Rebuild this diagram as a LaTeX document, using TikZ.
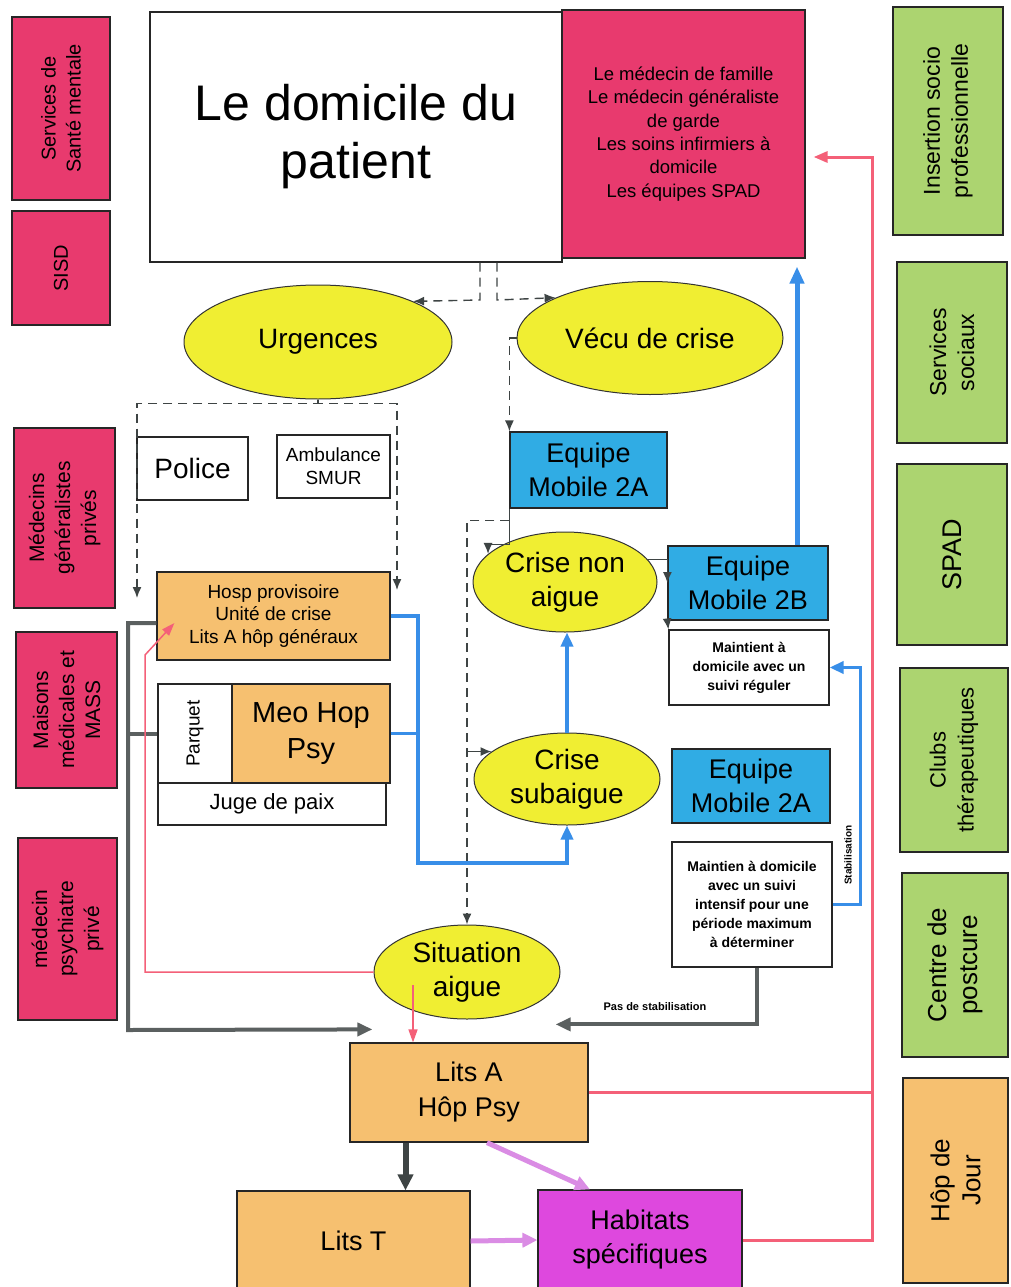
\documentclass[tikz,border=0pt]{standalone}
\usepackage{fontspec}
\setmainfont{Liberation Sans}
\usetikzlibrary{shapes.geometric, arrows.meta}

\definecolor{pinkbox}{RGB}{232,58,110}
\definecolor{greenbox}{RGB}{172,212,112}
\definecolor{orangebox}{RGB}{246,192,112}
\definecolor{yellowoval}{RGB}{240,238,50}
\definecolor{bluebox}{RGB}{48,172,228}
\definecolor{magentabox}{RGB}{222,72,222}
\definecolor{bluewire}{RGB}{56,142,232}
\definecolor{pinkwire}{RGB}{244,96,120}
\definecolor{violetwire}{RGB}{218,140,228}
\definecolor{darkwire}{RGB}{62,68,68}

\newcommand{\fsz}[2]{\fontsize{#1}{#2}\selectfont}

\begin{document}
\begin{tikzpicture}[x = 1pt, y = -1pt, > = {Latex[length = 11pt, width = 9pt]},
	box/.style = {draw = black!85, line width = 1.2, inner sep = 0, align = center, font = \fsz{27}{34}},
	sidebox/.style = {box, rotate = 90},
	oval/.style = {ellipse, draw = black!80, line width = 1, fill = yellowoval, inner sep = 0, align = center, font = \fsz{28}{34}},
	dashlink/.style = {draw = darkwire, line width = 1.4, dash pattern = on 9pt off 6pt},
	darkthin/.style = {draw = darkwire, line width = 1.4},
	bluelink/.style = {draw = bluewire, line width = 3.5, > = {Triangle[length = 14pt, width = 12pt]}},
	bluethick/.style = {draw = bluewire, line width = 5, > = {Triangle[length = 17pt, width = 14pt]}},
	graylink/.style = {draw = darkwire!85, line width = 4, > = {Triangle[length = 15pt, width = 13pt]}},
	darklink/.style = {draw = darkwire, line width = 6, > = {Triangle[length = 16pt, width = 15pt]}},
	violetlink/.style = {draw = violetwire, line width = 5, > = {Triangle[length = 15pt, width = 14pt]}},
	pinklink/.style = {draw = pinkwire, line width = 3, > = {Triangle[length = 14pt, width = 11pt]}},
	pinkthin/.style = {draw = pinkwire, line width = 1.5, > = {Triangle[length = 13pt, width = 9pt]}}]

	% Page

	\fill [white] (0, 0) rectangle (1010, 1287);
	\useasboundingbox (0, 0) rectangle (1010, 1287);

	% Left column

	\node [sidebox, fill = pinkbox, minimum width = 183, minimum height = 98, font = \fsz{20}{25}] (smh) at (61, 108.5) {Services de\\Santé mentale};
	\node [sidebox, fill = pinkbox, minimum width = 114, minimum height = 98, font = \fsz{20}{25}] (sisd) at (61, 268) {SISD};
	\node [sidebox, fill = pinkbox, minimum width = 180, minimum height = 101, font = \fsz{21}{26}] (medGen) at (64.5, 518) {Médecins\\généralistes\\privés};
	\node [sidebox, fill = pinkbox, minimum width = 156, minimum height = 101, font = \fsz{21}{26}] (maisons) at (66.5, 710) {Maisons\\médicales et\\MASS};
	\node [sidebox, fill = pinkbox, minimum width = 182, minimum height = 99, font = \fsz{21}{26}] (medPsy) at (67.5, 929) {médecin\\psychiatre\\privé};

	% Right column

	\node [sidebox, fill = greenbox, minimum width = 228, minimum height = 110, font = \fsz{23}{28}] (insertion) at (948, 121) {Insertion socio\\professionnelle};
	\node [sidebox, fill = greenbox, minimum width = 181, minimum height = 110, font = \fsz{23}{28}] (sociaux) at (952, 352.5) {Services\\sociaux};
	\node [sidebox, fill = greenbox, minimum width = 181, minimum height = 110, font = \fsz{27}{32}] (spad) at (952, 554.5) {SPAD};
	\node [sidebox, fill = greenbox, minimum width = 184, minimum height = 108, font = \fsz{22}{28}] (clubs) at (954, 760) {Clubs\\thérapeutiques};
	\node [sidebox, fill = greenbox, minimum width = 184, minimum height = 106, font = \fsz{26}{31}] (postcure) at (955, 965) {Centre de\\postcure};
	\node [sidebox, fill = orangebox, minimum width = 205, minimum height = 105, font = \fsz{26}{31}] (hopJour) at (955.5, 1180.5) {Hôp de\\Jour};

	% Domicile

	\node [box, minimum width = 412, minimum height = 250, font = \fsz{50}{58}] (dom) at (356, 137) {Le domicile du\\patient};
	\node [box, fill = pinkbox, minimum width = 243, minimum height = 248, font = \fsz{18.5}{23.4}] (domPink) at (683.5, 134) {Le médecin de famille\\Le médecin généraliste\\de garde\\Les soins infirmiers à\\domicile\\Les équipes SPAD};

	% Crisis ovals

	\node [oval, minimum width = 268, minimum height = 114] (urg) at (318, 342) {Urgences};
	\node [oval, minimum width = 266, minimum height = 113] (vec) at (650, 338) {Vécu de crise};
	\node [oval, minimum width = 184, minimum height = 100] (cna) at (565, 582) {Crise non\\aigue};
	\node [oval, minimum width = 186, minimum height = 92] (csa) at (567, 779) {Crise\\subaigue};
	\node [oval, minimum width = 186, minimum height = 94] (sit) at (467, 972) {Situation\\aigue};

	% Left branch

	\node [box, minimum width = 111, minimum height = 63, font = \fsz{28}{33}] (pol) at (192.5, 468.5) {Police};
	\node [box, minimum width = 113, minimum height = 63, font = \fsz{19}{23}] (amb) at (333.5, 466.5) {Ambulance\\SMUR};
	\node [box, fill = orangebox, minimum width = 233, minimum height = 88, font = \fsz{19}{22.5}] (hosp) at (273.5, 616) {Hosp provisoire\\Unité de crise\\Lits A hôp généraux};
	\node [sidebox, minimum width = 99, minimum height = 74, font = \fsz{19}{23}] (parq) at (195, 733.5) {Parquet};
	\node [box, fill = orangebox, minimum width = 158, minimum height = 99, font = \fsz{29}{36}] (meo) at (311, 733.5) {Meo Hop\\Psy};
	\node [box, minimum width = 228, minimum height = 42, font = \fsz{22}{26}] (juge) at (272, 804) {Juge de paix};

	% Mobile teams

	\node [box, fill = bluebox, minimum width = 157, minimum height = 76] (emA) at (588.5, 470) {Equipe\\Mobile 2A};
	\node [box, fill = bluebox, minimum width = 160, minimum height = 74] (emB) at (748, 583) {Equipe\\Mobile 2B};
	\node [box, minimum width = 160, minimum height = 75, font = \bfseries\fsz{14}{19}] (mtReg) at (749, 667.5) {Maintient à\\domicile avec un\\suivi réguler};
	\node [box, fill = bluebox, minimum width = 158, minimum height = 74] (emC) at (751, 786) {Equipe\\Mobile 2A};
	\node [box, minimum width = 160, minimum height = 125, font = \bfseries\fsz{14}{19}] (mtInt) at (752, 904.5) {Maintien à domicile\\avec un suivi\\intensif pour une\\période maximum\\à déterminer};

	% Hospital and after

	\node [box, fill = orangebox, minimum width = 238, minimum height = 99, font = \fsz{27}{35}] (litsA) at (469, 1092.5) {Lits A\\Hôp Psy};
	\node [box, fill = orangebox, minimum width = 233, minimum height = 100] (litsT) at (353.5, 1241) {Lits T};
	\node [box, fill = magentabox, minimum width = 204, minimum height = 100] (hab) at (640, 1240) {Habitats\\spécifiques};

	% Labels

	\node [font = \bfseries\fsz{11}{13}] (pasStab) at (655, 1007) {Pas de stabilisation};
	\node [rotate = 90, font = \bfseries\fsz{10}{12}] (stab) at (848, 855) {Stabilisation};

	% Domicile -> Urgences / Vécu de crise

	\coordinate (dL) at (480, 300);
	\coordinate (dR) at (497, 300);
	\draw [dashlink, ->] (dL |- dom.south) -- (dL) -- (urg.north east);
	\draw [dashlink, ->] (dR |- dom.south) -- (dR) -- (vec.north west);

	% Urgences -> hospital side

	\coordinate (uL) at (137, 598);
	\coordinate (uR) at (397, 590);
	\draw [dashlink, ->] (urg.south) -- ++(0, 4) -| (uL);
	\draw [dashlink, ->] (urg.south) -- ++(0, 4) -| (uR);

	% Vécu de crise -> mobile team

	\draw [dashlink, ->] (vec.west) -| (emA.north west);
	\draw [darkthin, ->] (emA.south west) -- ++(0, 36) -| (cna.160);
	\draw [dashlink, ->] (emA.south west) ++(0, 12) -| (sit.north);
	\draw [darkthin, ->] (csa.160 -| sit.north) -- (csa.160);
	\draw [darkthin, ->] (cna.15) -| (emB.west);
	\draw [darkthin, ->] (emB.south west) -- (mtReg.north west);

	% Back home

	\draw [bluethick, ->, shorten > = 8] ([xshift = 49] emB.north) -- ([xshift = 49] emB.north |- domPink.south);
	\draw [bluelink, ->] (mtInt.east) -- ++(28, 0) |- (mtReg.east);
	\draw [graylink, ->] ([xshift = 5] mtInt.south) |- ([xshift = -33, yshift = 18] litsA.north east);

	% Hosp / Meo -> Crise subaigue

	\coordinate (bL) at (418, 863);
	\draw [bluelink, ->] (hosp.east) -| (bL) -| (csa.south);
	\draw [bluelink] (meo.east) -- (meo.east -| bL);
	\draw [bluelink, ->] (csa.north) -- (csa.north |- cna.south);

	% Left loops

	\coordinate (gL) at (128, 1030);
	\draw [graylink, ->] ([yshift = -7] hosp.west) -| (gL) -- ([xshift = 23, yshift = 13] litsA.north west);
	\draw [graylink] (juge.west |- meo.west) -- (gL |- meo.west);

	\coordinate (pL) at (145, 655);
	\draw [pinkthin, ->] (sit.west) -| (pL) -- ([xshift = 18, yshift = -7] hosp.west);
	\draw [pinkthin, ->] ([xshift = -54, yshift = -13] sit.center) -- ([xshift = -56] litsA.north);

	% Right loop

	\coordinate (pR) at (872, 157);
	\draw [pinklink, ->, shorten > = 8] (litsA.east) -| (pR) -- (domPink.east |- pR);
	\draw [pinklink] (hab.east) -| (pR);

	% Lits A -> Lits T / Habitats

	\draw [darklink, ->] ([xshift = 52] litsT.north |- litsA.south) -- ([xshift = 52] litsT.north);
	\draw [violetlink, ->] ([xshift = 18] litsA.south) -- ([xshift = -50] hab.north);
	\draw [violetlink, ->] (litsT.east) -- (hab.west);

\end{tikzpicture}
\end{document}
